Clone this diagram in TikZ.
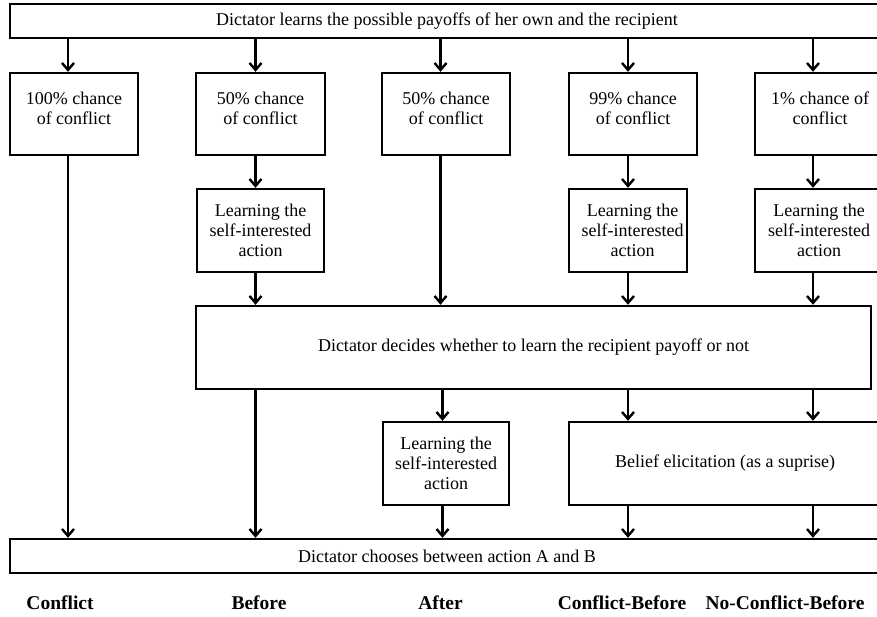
\documentclass[tikz,border=0pt]{standalone}
\usepackage{fontspec}
\setmainfont{Liberation Serif}
\usetikzlibrary{arrows.meta}
\begin{document}
\begin{tikzpicture}[x=1pt,y=-1pt,
  box/.style={draw,line width=2.4pt,rectangle,inner sep=0pt},
  txt/.style={font=\fontsize{18}{20.3}\selectfont,align=center,inner sep=0pt},
  lab/.style={font=\fontsize{19.5}{22}\selectfont\bfseries,inner sep=0pt},
  arr/.style={line width=2.4pt,-{Straight Barb[length=7pt,width=12pt,line width=2.4pt]}}]
\useasboundingbox (0,0) rectangle (877,617);
% column x positions
\coordinate (X1) at (68,0);
\coordinate (X2) at (255.5,0);
\coordinate (X3) at (440.5,0);
\coordinate (X3b) at (442.5,0);
\coordinate (X4) at (628,0);
\coordinate (X5) at (813,0);
% top box
\node[box,txt,minimum width=874,minimum height=34] (top) at (447,21)
  {Dictator learns the possible payoffs of her own and the recipient};
% row 1
\node[box,minimum width=128,minimum height=82] (b1) at (74,114) {};
\node[box,minimum width=129,minimum height=82] (b2) at (260.5,114) {};
\node[box,minimum width=128,minimum height=82] (b3) at (446,114) {};
\node[box,minimum width=128,minimum height=82] (b4) at (633,114) {};
\node[box,minimum width=130,minimum height=82] (b5) at (820,114) {};
\node[txt] (t1) at ([yshift=6pt]b1.center) {100\% chance\\of conflict};
\node[txt] (t2) at ([yshift=6pt]b2.center) {50\% chance\\of conflict};
\node[txt] (t3) at ([yshift=6pt]b3.center) {50\% chance\\of conflict};
\node[txt] (t4) at ([yshift=6pt]b4.center) {99\% chance\\of conflict};
\node[txt] (t5) at ([yshift=6pt]b5.center) {1\% chance of\\conflict};
% row 2
\node[box,minimum width=127,minimum height=83] (l2) at (260.5,230.5) {};
\node[box,minimum width=118,minimum height=83] (l4) at (628,230.5) {};
\node[box,minimum width=128,minimum height=83] (l5) at (819,230.5) {};
\node[txt] (u2) at (l2.center) {Learning the\\self-interested\\action};
\node[txt] (u4) at ([xshift=4.5pt]l4.center) {Learning the\\self-interested\\action};
\node[txt] (u5) at (l5.center) {Learning the\\self-interested\\action};
% big box
\node[box,txt,minimum width=675,minimum height=83] (big) at (533.5,347.5)
  {Dictator decides whether to learn the recipient payoff or not};
% row 3
\node[box,minimum width=126,minimum height=83] (aft) at (446,463.5) {};
\node[txt] (ua) at (aft.center) {Learning the\\self-interested\\action};
\node[box,txt,minimum width=312,minimum height=83] (bel) at (725,463.5)
  {Belief elicitation (as a suprise)};
% bottom box
\node[box,txt,minimum width=874,minimum height=34] (bot) at (447,556)
  {Dictator chooses between action A and B};
% labels
\node[lab] (n1) at (60,603) {Conflict};
\node[lab] (n2) at (259,603) {Before};
\node[lab] (n3) at (440.5,603) {After};
\node[lab] (n4) at (622,603) {Conflict-Before};
\node[lab] (n5) at (785,603) {No-Conflict-Before};
% arrows from top
\foreach \c/\b in {X1/b1,X2/b2,X3/b3,X4/b4,X5/b5}
  \draw[arr] (top.south -| \c) -- (\b.north -| \c);
% column 1
\draw[arr] (b1.south -| X1) -- (bot.north -| X1);
% column 2
\draw[arr] (b2.south -| X2) -- (l2.north -| X2);
\draw[arr] (l2.south -| X2) -- (big.north -| X2);
\draw[arr] (big.south -| X2) -- (bot.north -| X2);
% column 3
\draw[arr] (b3.south -| X3) -- (big.north -| X3);
\draw[arr] (big.south -| X3b) -- (aft.north -| X3b);
\draw[arr] (aft.south -| X3b) -- (bot.north -| X3b);
% column 4
\draw[arr] (b4.south -| X4) -- (l4.north -| X4);
\draw[arr] (l4.south -| X4) -- (big.north -| X4);
\draw[arr] (big.south -| X4) -- (bel.north -| X4);
\draw[arr] (bel.south -| X4) -- (bot.north -| X4);
% column 5
\draw[arr] (b5.south -| X5) -- (l5.north -| X5);
\draw[arr] (l5.south -| X5) -- (big.north -| X5);
\draw[arr] (big.south -| X5) -- (bel.north -| X5);
\draw[arr] (bel.south -| X5) -- (bot.north -| X5);
\end{tikzpicture}
\end{document}
